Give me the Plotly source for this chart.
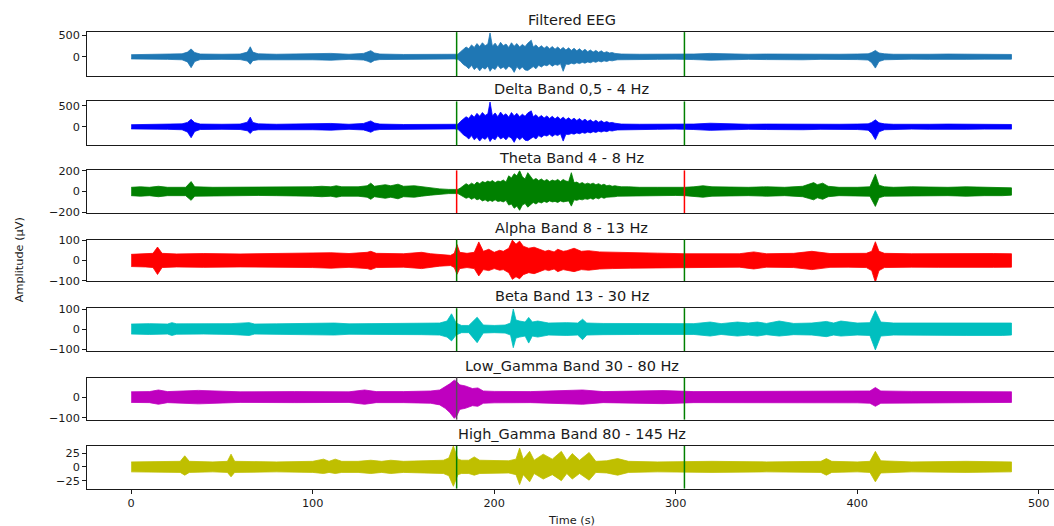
import plotly.graph_objects as go

# ---------------- data (envelopes, µV) ----------------
TITLES = ["Filtered EEG", "Delta Band 0,5 - 4 Hz", "Theta Band 4 - 8 Hz",
          "Alpha Band 8 - 13 Hz", "Beta Band 13 - 30 Hz",
          "Low_Gamma Band 30 - 80 Hz", "High_Gamma Band 80 - 145 Hz"]
EVENT_TIMES = [179.3, 304.8]
X_TICKS = [0, 100, 200, 300, 400, 500]

# shared time samples of the seizure burst (180-270 s)
burst_t = [180, 181.5, 183, 184.5, 186, 187.5, 189, 190.5, 192, 193.5, 195, 196.5, 197.7, 199, 200.5, 202, 203.5,
           205, 206.5, 208, 209.5, 211, 212.5, 214, 215.5, 217, 218.5, 220.4, 221.5, 223, 224.5, 226, 227.5, 229,
           230.5, 232, 233.5, 235, 236.5, 238, 239.5, 241, 242.5, 244, 245.5, 247, 248.5, 250, 251.5, 253, 254.5,
           256, 257.5, 259, 260.5, 262, 263.5, 265, 266.5, 268, 270]

eeg_pre_t = [0, 10, 20, 28, 31, 33, 35, 38, 50, 60, 64, 65.6, 67, 70, 80, 90, 100, 110, 120, 128, 130, 132, 134, 137,
             150, 160, 170, 178]
eeg_pre_hi = [50, 55, 60, 70, 110, 185, 100, 65, 60, 65, 110, 235, 110, 70, 60, 65, 70, 80, 60, 80, 110, 145, 90, 65,
              55, 55, 50, 50]
eeg_pre_lo = [-50, -55, -60, -70, -120, -255, -110, -65, -60, -65, -100, -175, -90, -70, -60, -65, -70, -80, -60,
              -75, -100, -135, -85, -65, -55, -55, -50, -50]
eeg_burst_hi = [60, 120, 170, 230, 190, 280, 220, 310, 240, 330, 260, 300, 560, 250, 320, 230, 340, 260, 300, 220,
                330, 250, 310, 230, 290, 240, 320, 390, 230, 280, 210, 260, 200, 250, 190, 240, 180, 230, 170, 220,
                160, 210, 150, 200, 140, 190, 130, 175, 120, 160, 110, 150, 105, 140, 95, 120, 90, 100, 80, 75, 65]
eeg_burst_lo = [-60, -110, -180, -220, -280, -200, -300, -240, -330, -250, -290, -220, -340, -260, -300, -200, -280,
                -240, -300, -220, -260, -365, -230, -300, -240, -310, -320, -260, -230, -280, -200, -240, -190, -210,
                -170, -220, -180, -200, -160, -340, -170, -180, -150, -170, -140, -160, -130, -150, -120, -140, -110,
                -130, -100, -120, -95, -110, -85, -95, -80, -70, -65]
eeg_post_t = [280, 290, 300, 305, 310, 319, 330, 340, 350, 360, 370, 380, 390, 400, 406, 408, 410, 412, 415, 420, 430,
              440, 450, 460, 470, 480, 485]
eeg_post_hi = [60, 60, 55, 55, 65, 80, 65, 60, 65, 60, 70, 60, 60, 65, 70, 100, 150, 90, 70, 60, 55, 60, 65, 60, 55,
               60, 55]
eeg_post_lo = [-60, -60, -55, -55, -65, -80, -65, -60, -65, -60, -70, -60, -60, -65, -75, -140, -265, -110, -70, -60,
               -55, -60, -65, -60, -55, -60, -55]

delta_pre_hi = [50, 55, 60, 70, 105, 180, 100, 65, 60, 65, 110, 230, 105, 70, 60, 65, 70, 80, 60, 80, 110, 140, 90,
                65, 55, 55, 50, 50]
delta_pre_lo = [-50, -55, -60, -70, -125, -260, -110, -65, -60, -65, -95, -160, -90, -70, -60, -65, -70, -80, -60,
                -75, -100, -130, -85, -65, -55, -55, -50, -50]
delta_burst_hi = [60, 130, 180, 240, 200, 290, 230, 320, 250, 340, 270, 310, 590, 260, 330, 240, 350, 270, 310, 230,
                  340, 260, 320, 240, 300, 250, 330, 380, 240, 290, 220, 270, 210, 260, 200, 250, 190, 240, 180, 230,
                  170, 215, 160, 205, 150, 195, 140, 180, 130, 165, 115, 155, 110, 145, 100, 125, 95, 105, 85, 80, 65]
delta_burst_lo = [-60, -120, -190, -230, -290, -210, -310, -250, -340, -260, -300, -230, -350, -270, -310, -210, -290,
                  -250, -310, -230, -270, -370, -240, -310, -250, -320, -330, -270, -240, -290, -210, -250, -200, -220,
                  -180, -230, -185, -210, -165, -340, -175, -185, -160, -175, -145, -165, -135, -155, -125, -145,
                  -115, -135, -105, -125, -100, -115, -90, -100, -85, -75, -65]
delta_post_hi = [60, 60, 55, 55, 65, 85, 65, 60, 65, 60, 70, 60, 60, 65, 70, 105, 165, 95, 70, 60, 55, 60, 65, 60,
                 55, 60, 55]
delta_post_lo = [-60, -60, -55, -55, -65, -85, -65, -60, -65, -60, -70, -60, -60, -65, -80, -160, -305, -120, -70,
                 -60, -55, -60, -65, -60, -55, -60, -55]

theta_pre_t = [0, 5, 10, 15, 20, 30, 33, 35, 45, 60, 70, 80, 90, 100, 105, 110, 113, 116, 125, 130, 132, 134, 140,
               143, 147, 150, 156, 160, 165, 170, 175]
theta_pre_hi = [40, 45, 40, 50, 40, 40, 95, 45, 40, 40, 38, 40, 40, 45, 50, 45, 55, 45, 45, 55, 80, 50, 65, 55, 70,
                50, 55, 45, 35, 25, 20]
theta_pre_lo = [-40, -45, -40, -50, -40, -40, -85, -45, -40, -40, -38, -40, -40, -45, -50, -45, -55, -45, -45, -55,
                -75, -50, -65, -55, -70, -50, -55, -45, -35, -25, -20]
theta_burst_hi = [20, 35, 55, 75, 60, 80, 65, 90, 75, 95, 85, 100, 90, 105, 85, 100, 95, 110, 90, 150, 130, 170, 150,
                  200, 140, 120, 180, 130, 110, 125, 105, 120, 100, 115, 95, 110, 100, 115, 95, 115, 100, 95, 180,
                  85, 90, 75, 85, 70, 80, 70, 80, 65, 75, 60, 70, 55, 60, 50, 55, 50, 45]
theta_burst_lo = [-20, -30, -50, -65, -55, -75, -60, -80, -70, -90, -80, -95, -85, -95, -80, -95, -90, -100, -85, -130,
                  -120, -160, -140, -180, -130, -115, -150, -125, -105, -120, -100, -110, -95, -105, -90, -100, -95,
                  -105, -90, -100, -95, -90, -140, -80, -85, -75, -80, -70, -75, -65, -75, -60, -70, -55, -65, -55,
                  -55, -50, -50, -45, -45]
theta_post_t = [274, 280, 290, 300, 305, 310, 315, 320, 330, 340, 350, 360, 370, 373, 376, 378, 381, 384, 390, 400,
                407, 410, 412, 415, 420, 430, 440, 450, 460, 470, 480, 485]
theta_post_hi = [45, 40, 40, 38, 40, 45, 55, 45, 40, 40, 45, 40, 50, 70, 85, 65, 80, 50, 40, 40, 45, 166, 60, 45, 40,
                 45, 40, 40, 45, 40, 40, 35]
theta_post_lo = [-45, -40, -40, -38, -40, -45, -55, -45, -40, -40, -45, -40, -50, -65, -80, -60, -75, -50, -40, -40,
                 -45, -143, -60, -45, -40, -45, -40, -40, -45, -40, -40, -35]

alpha_t = [0, 8, 12, 14.5, 17, 25, 40, 60, 80, 100, 110, 120, 130, 132, 135, 150, 160, 165, 170, 176, 178, 179.5, 181,
           185, 189, 191.5, 194, 197, 200, 203, 205, 208, 210, 212, 214, 216, 219, 222, 225, 228, 230, 233, 235, 238,
           240, 244, 248, 252, 258, 265, 275, 290, 305, 320, 335, 343, 350, 365, 375, 385, 395, 405, 408, 410, 412,
           415, 430, 445, 460, 475, 485]
alpha_hi = [30, 32, 35, 66, 35, 32, 34, 32, 33, 35, 38, 34, 40, 45, 35, 33, 40, 33, 28, 25, 35, 78, 40,
            35, 40, 91, 45, 55, 40, 50, 45, 60, 100, 80, 95, 70, 60, 65, 55, 45, 50, 42, 55, 45,
            48, 60, 45, 48, 42, 40, 38, 36, 33, 34, 33, 42, 33, 35, 45, 34, 33, 35, 45, 92, 45,
            35, 33, 34, 35, 34, 33]
alpha_lo = [-30, -32, -35, -69, -35, -32, -34, -32, -33, -35, -38, -34, -40, -45, -35, -33, -40, -33, -28, -25, -35,
            -68, -40, -35, -40, -76, -45, -50, -40, -48, -45, -60, -93, -80, -90, -70, -60, -65, -55, -45, -50, -42,
            -55, -45, -48, -55, -45, -48, -42, -40, -38, -36, -33, -34, -33, -42, -33, -35, -45, -34, -33, -35,
            -50, -107, -50, -35, -33, -34, -35, -34, -33]

beta_t = [0, 10, 20, 22.4, 25, 40, 55, 65, 68, 80, 100, 112, 120, 140, 160, 170, 174, 176.5, 179, 182, 186, 190.6,
          194, 200, 206, 209, 210.5, 212, 214, 217, 219, 221, 224, 230, 240, 246, 248.7, 251, 260, 280, 300, 310,
          319, 325, 334, 340, 345, 350, 357, 365, 375, 383, 387, 391, 400, 407, 410, 413, 420, 440, 460, 480, 485]
beta_hi = [25, 27, 25, 32, 26, 25, 27, 32, 25, 26, 28, 30, 26, 27, 28, 30, 40, 76, 30, 18, 18, 59,
           20, 18, 20, 30, 100, 45, 40, 35, 58, 35, 40, 30, 32, 30, 49, 30, 28, 27, 26, 27,
           35, 27, 35, 30, 35, 28, 40, 28, 30, 38, 30, 40, 30, 32, 92, 35, 30, 31, 32, 32, 30]
beta_lo = [-25, -27, -25, -32, -26, -25, -27, -32, -25, -26, -28, -30, -26, -27, -28, -30, -40, -59, -30, -18, -18,
           -68, -20, -18, -20, -30, -93, -45, -40, -35, -70, -35, -40, -30, -32, -30, -53, -30, -28, -27, -26, -27,
           -35, -27, -35, -30, -35, -28, -35, -28, -30, -38, -30, -35, -30, -32, -104, -35, -30, -31, -32, -32, -30]

lgam_t = [0, 10, 15, 20, 37, 60, 90, 120, 128.6, 135, 150, 165, 170, 173, 175.5, 178, 179.5, 181, 184, 188, 191,
          194, 200, 220, 248.7, 260, 293, 310, 340, 370, 400, 407, 410, 413, 430, 460, 485]
lgam_hi = [26, 27, 35, 27, 33, 26, 27, 26, 35, 27, 27, 30, 35, 50, 65, 83, 75, 60, 55, 42, 45,
           30, 28, 27, 35, 27, 32, 27, 28, 27, 28, 30, 47, 30, 28, 27, 26]
lgam_lo = [-26, -27, -35, -27, -33, -26, -27, -26, -35, -27, -27, -30, -38, -55, -75, -104, -90, -60, -55, -42, -45,
           -30, -28, -27, -35, -27, -32, -27, -28, -27, -28, -30, -45, -30, -28, -27, -26]

hgam_t = [0, 15, 27, 29.5, 32, 45, 53, 55, 57, 80, 100, 106, 109, 112.4, 116, 125, 132, 138, 143, 150, 165, 172, 175,
          177.5, 180, 182, 186, 189, 192, 200, 208, 212, 214, 216, 219.5, 222, 227, 232, 237, 240, 243, 247, 252.3,
          256, 262, 268, 274, 290, 320, 350, 380, 383, 386, 400, 407, 410, 413, 430, 460, 485]
hgam_hi = [9, 10, 10, 20, 10, 9, 10, 23, 10, 9, 10, 14, 10, 14, 10, 10, 12, 10, 12, 10, 11, 12, 16,
           38, 14, 12, 12, 18, 12, 12, 11, 14, 34, 14, 28, 12, 23, 14, 28, 12, 24, 12, 26,
           10, 11, 15, 10, 9, 10, 9, 10, 15, 10, 9, 10, 28, 11, 9, 10, 9]
hgam_lo = [-9, -10, -10, -15, -10, -9, -10, -18, -10, -9, -10, -12, -10, -12, -10, -10, -12, -10, -12, -10, -11,
           -12, -16, -35, -14, -12, -12, -15, -12, -12, -11, -14, -32, -14, -27, -12, -22, -14, -25, -12, -22, -12,
           -24, -10, -11, -15, -10, -9, -10, -9, -10, -15, -10, -9, -10, -27, -11, -9, -10, -9]

BANDS = [
    (eeg_pre_t + burst_t + eeg_post_t, eeg_pre_hi + eeg_burst_hi + eeg_post_hi, eeg_pre_lo + eeg_burst_lo + eeg_post_lo),
    (eeg_pre_t + burst_t + eeg_post_t, delta_pre_hi + delta_burst_hi + delta_post_hi,
     delta_pre_lo + delta_burst_lo + delta_post_lo),
    (theta_pre_t + burst_t + theta_post_t, theta_pre_hi + theta_burst_hi + theta_post_hi,
     theta_pre_lo + theta_burst_lo + theta_post_lo),
    (alpha_t, alpha_hi, alpha_lo), (beta_t, beta_hi, beta_lo), (lgam_t, lgam_hi, lgam_lo),
    (hgam_t, hgam_hi, hgam_lo)]

# ---------------- styling ----------------
COLORS = ["#1f77b4", "#0000ff", "#008000", "#ff0000", "#00bfbf", "#bf00bf", "#bfbf00"]
EVENT_COLORS = [["#008000", "#008000"], ["#008000", "#008000"], ["#ff0000", "#ff0000"], ["#008000", "#008000"],
                ["#008000", "#008000"], ["#5a4a5c", "#008000"], ["#008000", "#008000"]]
Y_RANGES = [[-453, 580], [-443, 605], [-206, 202], [-101, 102], [-110, 104], [-110, 96], [-39.2, 37.7]]
Y_TICKS = [[0, 500], [0, 500], [-200, 0, 200], [-100, 0, 100], [-100, 0, 100], [-100, 0], [-25, 0, 25]]
TOPS = [32.1, 101.4, 170.4, 239.7, 308.2, 377.5, 446.0]
BOTS = [76.1, 145.4, 213.0, 281.0, 351.1, 419.6, 488.6]

W, H = 1054, 526
X0 = 87.2
PX_PER_S = 1.815
FONT = "DejaVu Sans"
TXT = "#1a1a1a"

fig = go.Figure()
layout = dict(width=W, height=H, margin=dict(l=0, r=0, t=0, b=0, autoexpand=False), showlegend=False,
              plot_bgcolor="white", paper_bgcolor="white", font=dict(family=FONT, size=11.3, color=TXT))
shapes, annotations = [], []
n = len(BANDS)
for i, (t, hi, lo) in enumerate(BANDS):
    k = "" if i == 0 else str(i + 1)
    xs = list(t) + list(t)[::-1]
    ys = list(hi) + list(lo)[::-1]
    fig.add_trace(go.Scatter(x=xs, y=ys, mode="lines", fill="toself", fillcolor=COLORS[i],
                             line=dict(color=COLORS[i], width=0.8), hoverinfo="skip",
                             xaxis="x" + k, yaxis="y" + k))
    last = i == n - 1
    layout["xaxis" + k] = dict(domain=[X0 / W, 1], range=[-24.25, -24.25 + (W - X0) / PX_PER_S],
                               anchor="y" + k, showgrid=False, zeroline=False, automargin=False,
                               showline=True, mirror=True, linecolor=TXT, linewidth=1,
                               ticks="outside" if last else "", ticklen=4, tickcolor=TXT,
                               tickvals=X_TICKS if last else [], showticklabels=last,
                               **({} if i == 0 else {"matches": "x"}))
    layout["yaxis" + k] = dict(domain=[1 - BOTS[i] / H, 1 - TOPS[i] / H], range=Y_RANGES[i],
                               anchor="x" + k, showgrid=False, zeroline=False, automargin=False,
                               showline=True, mirror=False, linecolor=TXT, linewidth=1,
                               ticks="outside", ticklen=4, tickcolor=TXT, tickvals=Y_TICKS[i])
    for ev, col in zip(EVENT_TIMES, EVENT_COLORS[i]):
        shapes.append(dict(type="line", xref="x" + k, yref="y" + k + " domain", x0=ev, x1=ev, y0=0, y1=1,
                           line=dict(color=col, width=1.5), layer="above"))
    annotations.append(dict(text=TITLES[i], xref="paper", yref="paper", x=(X0 + 1056) / 2 / W,
                            y=1 - TOPS[i] / H, xanchor="center", yanchor="bottom", yshift=2, showarrow=False,
                            font=dict(family=FONT, size=14.5, color=TXT)))

annotations.append(dict(text="Amplitude (µV)", xref="paper", yref="paper", x=19 / W,
                        y=1 - (TOPS[0] + BOTS[-1]) / 2 / H, textangle=-90, xanchor="center", yanchor="middle",
                        showarrow=False, font=dict(family=FONT, size=11.3, color=TXT)))
annotations.append(dict(text="Time (s)", xref="paper", yref="paper", x=(X0 + 1056) / 2 / W,
                        y=1 - 520 / H, xanchor="center", yanchor="middle",
                        showarrow=False, font=dict(family=FONT, size=11.3, color=TXT)))
layout["shapes"] = shapes
layout["annotations"] = annotations
fig.update_layout(**layout)
fig.write_html("out.html", config={"displayModeBar": False},
               post_script="document.body.style.margin='0';document.body.style.overflow='hidden';")
